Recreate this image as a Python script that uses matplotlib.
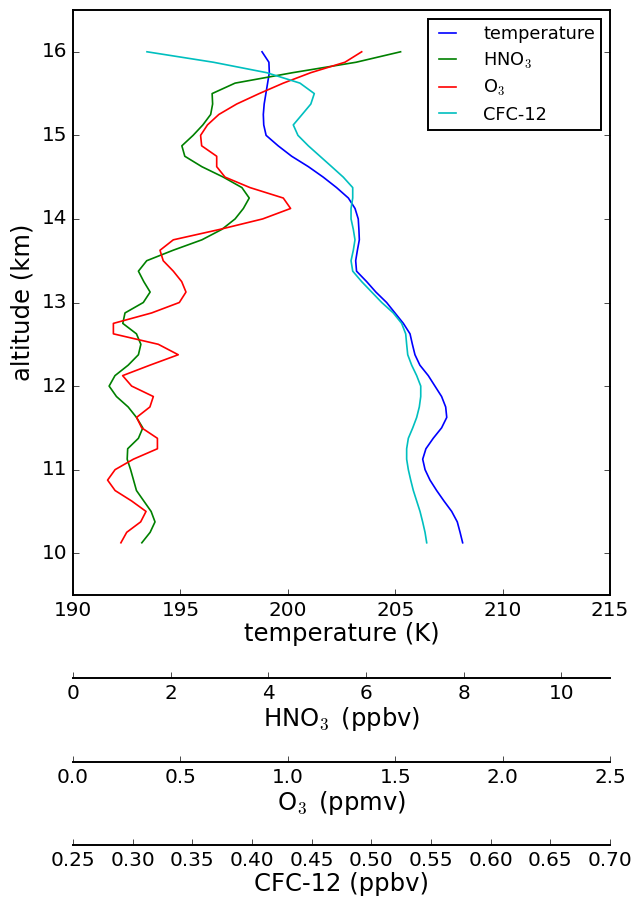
import numpy as np
import matplotlib
matplotlib.use('Agg')
import matplotlib.pyplot as plt

plt.style.use('classic')

# altitude grid (km), top to bottom
altitude = [16.0, 15.875, 15.75, 15.625, 15.5, 15.375, 15.25, 15.125,
            15.0, 14.875, 14.75, 14.625, 14.5, 14.375, 14.25, 14.125,
            14.0, 13.875, 13.75, 13.625, 13.5, 13.375, 13.25, 13.125,
            13.0, 12.875, 12.75, 12.625, 12.5, 12.375, 12.25, 12.125,
            12.0, 11.875, 11.75, 11.625, 11.5, 11.375, 11.25, 11.125,
            11.0, 10.875, 10.75, 10.625, 10.5, 10.375, 10.25, 10.125]

temperature = [198.8, 199.12, 199.14, 199.06, 198.98, 198.9, 198.86, 198.88,
               198.99, 199.55, 200.18, 200.96, 201.65, 202.27, 202.82, 203.13,
               203.28, 203.31, 203.33, 203.24, 203.16, 203.2, 203.67, 204.1,
               204.6, 204.99, 205.38, 205.69, 205.8, 205.92, 206.15, 206.54,
               206.85, 207.16, 207.35, 207.4, 207.16, 206.77, 206.43, 206.28,
               206.39, 206.62, 206.93, 207.27, 207.63, 207.89, 208.02, 208.14]

hno3 = [6.71, 5.8, 4.5, 3.32, 2.85, 2.86, 2.82, 2.66,
        2.46, 2.23, 2.29, 2.64, 3.08, 3.46, 3.61, 3.49,
        3.32, 3.05, 2.64, 2.05, 1.51, 1.34, 1.45, 1.58,
        1.44, 1.065, 1.02, 1.30, 1.39, 1.34, 1.13, 0.86,
        0.74, 0.89, 1.13, 1.30, 1.43, 1.34, 1.12, 1.11,
        1.18, 1.24, 1.30, 1.45, 1.60, 1.68, 1.58, 1.41]

o3 = [1.344, 1.266, 1.107, 0.979, 0.867, 0.762, 0.679, 0.626,
      0.594, 0.599, 0.669, 0.669, 0.708, 0.824, 0.979, 1.013,
      0.883, 0.684, 0.467, 0.405, 0.42, 0.467, 0.506, 0.526,
      0.495, 0.366, 0.188, 0.188, 0.397, 0.49, 0.358, 0.231,
      0.273, 0.374, 0.358, 0.296, 0.32, 0.393, 0.393, 0.281,
      0.196, 0.161, 0.196, 0.273, 0.34, 0.315, 0.25, 0.223]

cfc12 = [0.312, 0.3676, 0.4123, 0.4402, 0.4522, 0.4493, 0.442, 0.4346,
         0.4385, 0.4472, 0.457, 0.4668, 0.4765, 0.4844, 0.4844, 0.483,
         0.483, 0.4849, 0.4863, 0.4849, 0.483, 0.4844, 0.4919, 0.5003,
         0.5087, 0.5184, 0.5254, 0.5288, 0.5296, 0.5305, 0.5338, 0.538,
         0.5414, 0.5414, 0.5402, 0.538, 0.5347, 0.531, 0.5296, 0.5296,
         0.531, 0.533, 0.5352, 0.538, 0.5408, 0.543, 0.545, 0.5464]

DPI = 100
FS = 14.4     # tick labels
LFS = 17.5    # axis labels
plt.rcParams['axes.linewidth'] = 1.4
plt.rcParams['lines.linewidth'] = 1.2

fig = plt.figure(figsize=(6.39, 9.02), dpi=DPI, facecolor='white')
ax = fig.add_axes([73 / 639, 1 - 595 / 902, 537 / 639, 585 / 902])


def extra_axis(host, offset_px):
    # parasite x axis drawn as a spine below the host axes
    par = host.twiny()
    par.xaxis.set_ticks_position('bottom')
    par.xaxis.set_label_position('bottom')
    par.spines['bottom'].set_position(('outward', offset_px * 72.0 / DPI))
    for sp in ['top', 'left', 'right']:
        par.spines[sp].set_visible(False)
    par.patch.set_visible(False)
    return par


ax_hno3 = extra_axis(ax, 83)
ax_o3 = extra_axis(ax, 167)
ax_cfc = extra_axis(ax, 250)

l1, = ax.plot(temperature, altitude, color='b', label='temperature')
l2, = ax_hno3.plot(hno3, altitude, color='g', label='HNO$_3$')
l3, = ax_o3.plot(o3, altitude, color='r', label='O$_3$')
l4, = ax_cfc.plot(cfc12, altitude, color='c', label='CFC-12')

ax.set_xlim(190, 215)
ax.set_ylim(9.5, 16.5)
ax_hno3.set_xlim(0, 11)
ax_o3.set_xlim(0, 2.5)
ax_cfc.set_xlim(0.25, 0.70)

ax.set_xticks([190, 195, 200, 205, 210, 215])
ax.set_yticks([10, 11, 12, 13, 14, 15, 16])
ax_hno3.set_xticks([0, 2, 4, 6, 8, 10])
ax_o3.set_xticks([0.0, 0.5, 1.0, 1.5, 2.0, 2.5])
ax_o3.xaxis.set_major_formatter(matplotlib.ticker.FormatStrFormatter('%.1f'))
ax_cfc.set_xticks(np.arange(0.25, 0.701, 0.05))
ax_cfc.xaxis.set_major_formatter(matplotlib.ticker.FormatStrFormatter('%.2f'))

ax.tick_params(top=False, labelsize=FS)
for a in (ax_hno3, ax_o3, ax_cfc):
    a.tick_params(axis='x', top=False, labelsize=FS)

ax.set_xlabel('temperature (K)', fontsize=LFS, labelpad=2)
ax.set_ylabel('altitude (km)', fontsize=LFS)
ax_hno3.set_xlabel(r'HNO$_3\,$ (ppbv)', fontsize=LFS, labelpad=2)
ax_o3.set_xlabel(r'O$_3\,$ (ppmv)', fontsize=LFS, labelpad=2)
ax_cfc.set_xlabel('CFC-12 (ppbv)', fontsize=LFS, labelpad=2)

leg = ax_cfc.legend([l1, l2, l3, l4], [l.get_label() for l in (l1, l2, l3, l4)],
                    loc='upper right', fontsize=12.8, fancybox=False,
                    labelspacing=0.42, borderpad=0.35, handletextpad=1.2,
                    handlelength=1.55)
leg.get_frame().set_linewidth(1.4)

fig.savefig('out.png', dpi=DPI, facecolor='white')
